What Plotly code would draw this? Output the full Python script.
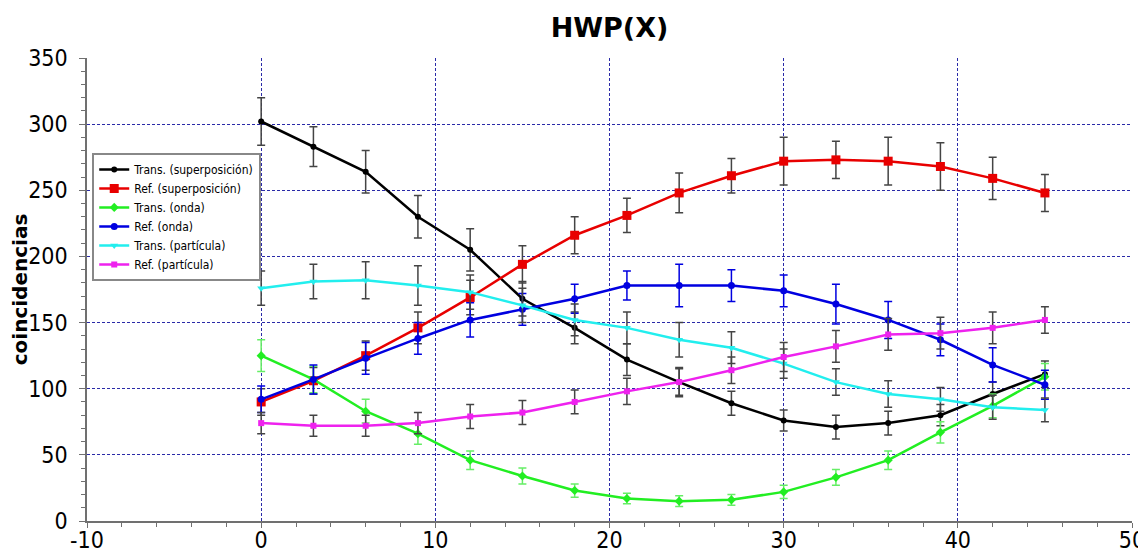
import plotly.graph_objects as go

x_deg = [0, 3, 6, 9, 12, 15, 18, 21, 24, 27, 30, 33, 36, 39, 42, 45]

trans_sup = [302, 283, 264, 230, 205, 168, 146, 122, 105, 89, 76, 71, 74, 80, 96, 111]
trans_sup_err = [18, 15, 16, 16, 16, 13, 12, 12, 11, 9, 8, 9, 9, 8, 9, 10]

ref_sup = [90, 106, 125, 146, 169, 194, 216, 231, 248, 261, 272, 273, 272, 268, 259, 248]
ref_sup_err = [10, 10, 11, 12, 13, 14, 14, 13, 15, 13, 18, 14, 18, 18, 16, 14]

trans_onda = [125, 107, 83, 66, 46, 34, 23, 17, 15, 16, 22, 33, 46, 67, 87, 109]
trans_onda_err = [12, 10, 9, 8, 7, 6, 5, 4, 4, 4, 5, 6, 7, 8, 9, 10]

ref_onda = [92, 107, 123, 138, 152, 160, 168, 178, 178, 178, 174, 164, 152, 137, 118, 103]
ref_onda_err = [10, 11, 12, 12, 13, 12, 11, 11, 16, 12, 12, 15, 14, 12, 13, 11]

trans_part = [176, 181, 182, 178, 173, 163, 152, 146, 137, 131, 119, 105, 96, 92, 86, 84]
trans_part_err = [13, 13, 14, 15, 13, 13, 12, 12, 13, 12, 11, 10, 10, 9, 9, 9]

ref_part = [74, 72, 72, 74, 79, 82, 90, 98, 105, 114, 124, 132, 141, 142, 146, 152]
ref_part_err = [8, 8, 8, 8, 9, 9, 9, 10, 10, 10, 11, 12, 12, 12, 12, 10]

x_tickvals = [-10, 0, 10, 20, 30, 40, 50]
x_ticktext = ["-10", "0", "10", "20", "30", "40", "50"]

series = [
    ("Trans. (superposición)", trans_sup, trans_sup_err, "#000000", "#444444", "circle", 6),
    ("Ref. (superposición)", ref_sup, ref_sup_err, "#e80000", "#444444", "square", 9),
    ("Trans. (onda)", trans_onda, trans_onda_err, "#22ee22", "#66ee66", "diamond", 7),
    ("Ref. (onda)", ref_onda, ref_onda_err, "#0000e0", "#0000e0", "circle", 7),
    ("Trans. (partícula)", trans_part, trans_part_err, "#22eeee", "#444444", "triangle-down", 7),
    ("Ref. (partícula)", ref_part, ref_part_err, "#ee22ee", "#444444", "square", 6),
]

fig = go.Figure()
for name, vals, errs, col, ecol, sym, sz in series:
    fig.add_trace(go.Scatter(
        x=x_deg, y=vals, name=name, mode="lines+markers",
        line=dict(color=col, width=2.5),
        marker=dict(color=col, symbol=sym, size=sz),
        error_y=dict(type="data", array=errs, visible=True, color=ecol,
                     thickness=1.5, width=4),
    ))

axis_font = dict(family="DejaVu Sans Condensed", size=23, color="#000000")
grid_col = "#2a2aa8"
axis_col = "#707070"

# The page body has an 8px default margin, so the figure is sized to fit inside it.
fig.update_layout(
    width=1138, height=544,
    margin=dict(l=79, r=14, t=50, b=31),
    paper_bgcolor="white", plot_bgcolor="white",
    title=dict(text="<b>HWP(X)</b>", x=0.5, xref="paper", xanchor="center",
               y=0.964, yref="container", yanchor="middle",
               font=dict(family="DejaVu Sans", size=27, color="#000000")),
    showlegend=True,
    legend=dict(x=0.005, y=0.795, xanchor="left", yanchor="top",
                bgcolor="white", bordercolor="#888888", borderwidth=2,
                font=dict(family="DejaVu Sans Condensed", size=12, color="#000000"),
                itemwidth=30, tracegroupgap=0),
    xaxis=dict(range=[-10, 50], tickvals=x_tickvals, ticktext=x_ticktext, showgrid=True,
               gridcolor=grid_col, griddash="3px,2px", gridwidth=1, automargin=False,
               zeroline=False, showline=True, linecolor=axis_col, linewidth=1.5,
               ticks="outside", ticklen=5, tickcolor=axis_col, ticklabelstandoff=-7,
               minor=dict(dtick=2, ticks="outside", ticklen=4, tickcolor=axis_col, showgrid=False),
               tickfont=axis_font),
    yaxis=dict(range=[0, 350], dtick=50, tick0=0, showgrid=True,
               gridcolor=grid_col, griddash="3px,2px", gridwidth=1, automargin=False,
               zeroline=False, showline=True, linecolor=axis_col, linewidth=1.5,
               ticks="outside", ticklen=6, tickcolor=axis_col, ticklabelstandoff=7,
               minor=dict(dtick=10, ticks="outside", ticklen=4, tickcolor=axis_col, showgrid=False),
               tickfont=axis_font,
               title=dict(text="<b>coincidencias</b>", standoff=6,
                          font=dict(family="DejaVu Sans", size=20, color="#000000"))),
)

fig.write_html("out.html")
